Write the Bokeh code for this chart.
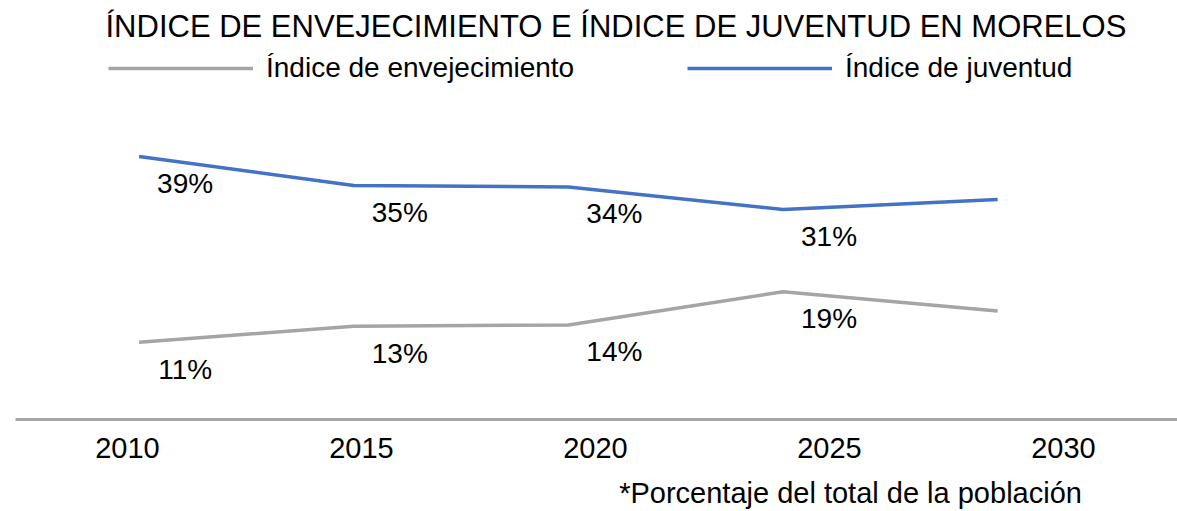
from bokeh.plotting import figure
from bokeh.models import (Range1d, LinearAxis, FixedTicker, Legend, LegendItem,
                          ColumnDataSource)
from bokeh.core.properties import value
from bokeh.embed import file_html
from bokeh.resources import INLINE

# ---- data ----
years = [2010, 2015, 2020, 2025, 2030]
envejecimiento = [11.0, 13.4, 13.6, 18.6, 15.7]   # % of total population
juventud = [39.0, 34.6, 34.4, 31.0, 32.5]         # % of total population
labeled_years = [2010, 2015, 2020, 2025]          # years with data labels
series_names = ["Índice de envejecimiento", "Índice de juventud"]
title_text = "ÍNDICE DE ENVEJECIMIENTO E ÍNDICE DE JUVENTUD EN MORELOS"
note_text = "*Porcentaje del total de la población"

FONT = "Liberation Sans"
GRAY = "#A5A5A5"
BLUE = "#4472C4"
NOTE_POS = 2025.45   # horizontal anchor (axis units) of the footnote's centre

p = figure(width=1177, height=511, output_backend="svg", toolbar_location=None,
           x_range=Range1d(2007.12, 2034.19), y_range=Range1d(-0.65, 54.96),
           x_axis_location=None, y_axis_location=None,
           min_border_left=15, min_border_right=0, min_border_top=50,
           min_border_bottom=92)
p.outline_line_color = None
p.grid.visible = False
p.background_fill_color = "white"
p.border_fill_color = "white"

p.extra_x_ranges = {"ticks": Range1d(2007.607, 2032.436)}
xaxis = LinearAxis(x_range_name="ticks", ticker=FixedTicker(ticks=years))
xaxis.axis_line_color = "#A6A6A6"
xaxis.axis_line_width = 3
xaxis.major_tick_line_color = None
xaxis.minor_tick_line_color = None
xaxis.major_label_text_font = FONT
xaxis.major_label_text_font_size = "29px"
xaxis.major_label_text_color = "black"
xaxis.major_label_standoff = 12
p.add_layout(xaxis, "below")

# footnote placed as a single labelled position on a bare secondary axis
note_axis = LinearAxis(x_range_name="ticks", ticker=FixedTicker(ticks=[NOTE_POS]),
                       major_label_overrides={NOTE_POS: note_text})
note_axis.axis_line_color = None
note_axis.major_tick_line_color = None
note_axis.minor_tick_line_color = None
note_axis.major_tick_out = 0
note_axis.major_tick_in = 0
note_axis.major_label_standoff = 16
note_axis.major_label_text_font = FONT
note_axis.major_label_text_font_size = "29px"
note_axis.major_label_text_color = "black"
p.add_layout(note_axis, "below")

src_e = ColumnDataSource(dict(x=years, y=envejecimiento))
src_j = ColumnDataSource(dict(x=years, y=juventud))
r_e = p.line("x", "y", source=src_e, line_color=GRAY, line_width=3.5)
r_j = p.line("x", "y", source=src_j, line_color=BLUE, line_width=3.5)

n = len(labeled_years)
lab = ColumnDataSource(dict(
    x=labeled_years * 2,
    y=envejecimiento[:n] + juventud[:n],
    t=[f"{round(v)}%" for v in envejecimiento[:n] + juventud[:n]],
))
p.text("x", "y", text="t", source=lab, text_font=value(FONT),
       text_font_size="28px", text_color="black", text_align="center",
       text_baseline="middle", x_offset=46, y_offset=27)

legend = Legend(items=[LegendItem(label=series_names[0], renderers=[r_e]),
                       LegendItem(label=series_names[1], renderers=[r_j])],
                orientation="horizontal", location=(93, 335),
                glyph_width=145, glyph_height=30, label_standoff=13,
                label_width=326, spacing=95, padding=0, margin=0,
                label_text_font=FONT, label_text_font_size="28px",
                label_text_color="black", border_line_color=None,
                background_fill_alpha=0)
p.add_layout(legend, "center")

p.title.text = title_text
p.title.align = "left"
p.title.offset = 90
p.title.standoff = 13
p.title.text_font = FONT
p.title.text_font_style = "normal"
p.title.text_font_size = "31px"
p.title.text_color = "black"

open("out.html", "w").write(file_html(p, INLINE))
